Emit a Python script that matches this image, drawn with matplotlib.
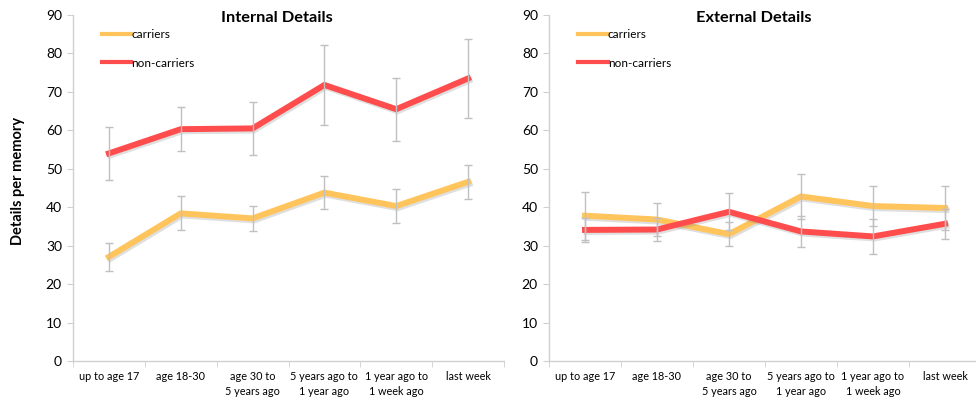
import matplotlib.pyplot as plt
import matplotlib.patheffects as pe
import numpy as np

plt.rcParams['font.family'] = ['Lato', 'DejaVu Sans']

categories = ["up to age 17", "age 18-30", "age 30 to\n5 years ago",
              "5 years ago to\n1 year ago", "1 year ago to\n1 week ago", "last week"]

# Internal details
int_carriers = [27.1, 38.4, 37.1, 43.8, 40.3, 46.6]
int_carriers_err = [3.7, 4.4, 3.3, 4.2, 4.4, 4.4]
int_noncarriers = [54.0, 60.3, 60.5, 71.8, 65.5, 73.5]
int_noncarriers_err = [6.8, 5.8, 6.8, 10.4, 8.2, 10.2]

# External details
ext_carriers = [37.8, 36.8, 33.0, 42.8, 40.3, 39.8]
ext_carriers_err = [6.2, 4.4, 3.2, 5.9, 5.1, 5.8]
ext_noncarriers = [34.1, 34.2, 38.8, 33.7, 32.4, 35.7]
ext_noncarriers_err = [3.2, 3.1, 4.8, 4.1, 4.6, 3.9]

YELLOW = '#FFC55C'
RED = '#FF4D4D'
GREY = '#C0C0C0'
AXIS = '#D0D0D0'

W, H = 976, 405
fig = plt.figure(figsize=(W / 100, H / 100), dpi=100)

ax1 = fig.add_axes([73 / W, 44 / H, 431 / W, 346 / H])
ax2 = fig.add_axes([549 / W, 44 / H, 432 / W, 346 / H])

shadow = [pe.SimpleLineShadow(offset=(1, -1.5), shadow_color='#808080', alpha=0.25),
          pe.Normal()]


def draw_panel(ax, title, car, car_err, non, non_err, legend_x):
    x = np.arange(len(categories))
    ax.plot(x, car, color=YELLOW, lw=4.3, solid_joinstyle='miter',
            path_effects=shadow, label='carriers', zorder=3)
    ax.plot(x, non, color=RED, lw=4.3, solid_joinstyle='miter',
            path_effects=shadow, label='non-carriers', zorder=3)
    ax.errorbar(x, car, yerr=car_err, fmt='none', ecolor=GREY, elinewidth=1,
                capsize=3, capthick=1, zorder=4)
    ax.errorbar(x, non, yerr=non_err, fmt='none', ecolor=GREY, elinewidth=1,
                capsize=3, capthick=1, zorder=4)

    ax.set_xlim(-0.5, len(categories) - 0.5)
    ax.set_ylim(0, 90)
    ax.set_yticks(range(0, 91, 10))
    ax.set_xticks(x)
    ax.set_xticklabels(categories, fontsize=7.8, linespacing=1.5)
    ax.set_xticks(np.arange(-0.5, len(categories), 1), minor=True)
    ax.tick_params(axis='x', which='major', length=0, pad=7)
    ax.tick_params(axis='x', which='minor', length=4, color=AXIS, direction='out')
    ax.tick_params(axis='y', labelsize=10, length=4, color=AXIS, pad=4)

    for s in ['top', 'right']:
        ax.spines[s].set_visible(False)
    for s in ['left', 'bottom']:
        ax.spines[s].set_color(AXIS)
        ax.spines[s].set_linewidth(1)

    ax.text(0.473, 1.012, title, transform=ax.transAxes, ha='center', va='top',
            fontsize=11.8, fontweight='bold')

    leg = ax.legend(loc='upper left', bbox_to_anchor=(legend_x, 0.96),
                    frameon=False, fontsize=8.5, handlelength=2.5,
                    handletextpad=0.0, labelspacing=1.5, borderpad=0,
                    borderaxespad=0)
    for line in leg.get_lines():
        line.set_linewidth(3)
        line.set_path_effects([])


draw_panel(ax1, 'Internal Details', int_carriers, int_carriers_err,
           int_noncarriers, int_noncarriers_err, 0.067)
draw_panel(ax2, 'External Details', ext_carriers, ext_carriers_err,
           ext_noncarriers, ext_noncarriers_err, 0.068)

ax1.set_ylabel('Details per memory', fontsize=10.5, fontweight='bold')
ax1.yaxis.set_label_coords(-0.112, 0.52)

fig.savefig('out.png', dpi=100)
